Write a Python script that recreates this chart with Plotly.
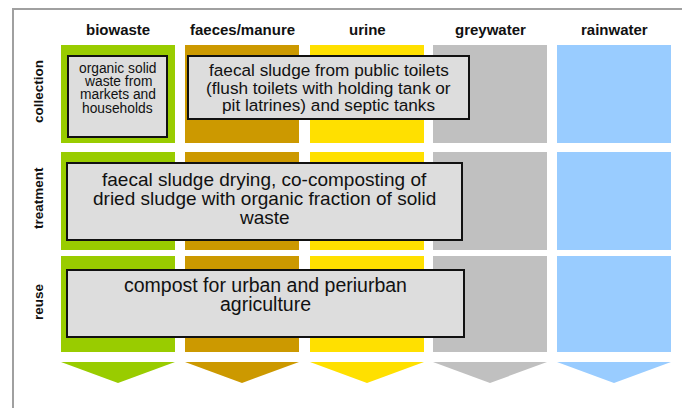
import plotly.graph_objects as go

# ---- data ----
categories = ["biowaste", "faeces/manure", "urine", "greywater", "rainwater"]
category_colors = ["#99CC00", "#CC9900", "#FFE000", "#C0C0C0", "#99CCFF"]
stages = ["collection", "treatment", "reuse"]

collection_biowaste_lines = ["organic solid", "waste from", "markets and", "households"]
collection_faecal_lines = ["faecal sludge from public toilets",
                           "(flush toilets with holding tank or",
                           "pit latrines) and septic tanks"]
treatment_lines = ["faecal sludge drying, co-composting of",
                   "dried sludge with organic fraction of solid",
                   "waste"]
reuse_lines = ["compost for urban and periurban", "agriculture"]

# ---- layout geometry (page-pixel data coordinates) ----
col_x0 = [61, 185, 310, 433, 557]
col_w = 114
row_y = [(45, 143), (152, 250), (256, 352)]
arrow_y = (362, 383)
header_y = 29
stage_x = 38
stage_y = [92, 198, 302]

FONT = "Liberation Sans, Arial, sans-serif"
TXT = "#111111"

shapes = []
annotations = []

# outer frame
shapes.append(dict(type="rect", xref="x", yref="y", x0=13, y0=9, x1=687, y1=440,
                   line=dict(color="#A0A0A0", width=2), fillcolor="rgba(0,0,0,0)", layer="below"))

# coloured column blocks and arrows
for i, (cat, col) in enumerate(zip(categories, category_colors)):
    x0 = col_x0[i]
    x1 = x0 + col_w
    for (y0, y1) in row_y:
        shapes.append(dict(type="rect", xref="x", yref="y", x0=x0, x1=x1, y0=y0, y1=y1,
                           fillcolor=col, line=dict(width=0), layer="below"))
    xc = (x0 + x1) / 2
    shapes.append(dict(type="path", xref="x", yref="y",
                       path=f"M {x0},{arrow_y[0]} L {x1},{arrow_y[0]} L {xc},{arrow_y[1]} Z",
                       fillcolor=col, line=dict(width=0), layer="below"))
    annotations.append(dict(x=xc, y=header_y, xref="x", yref="y", text=f"<b>{cat}</b>",
                            showarrow=False, font=dict(family=FONT, size=15, color=TXT)))

# stage labels
for s, y in zip(stages, stage_y):
    annotations.append(dict(x=stage_x, y=y, xref="x", yref="y", text=f"<b>{s}</b>",
                            textangle=-90, showarrow=False,
                            font=dict(family=FONT, size=13.5, color=TXT)))

# grey text boxes: rect, lines, font size, first line centre, line spacing
boxes = [
    (dict(x0=68, x1=167, y0=56, y1=137), collection_biowaste_lines, 13.8, 68, 13.4),
    (dict(x0=188, x1=469, y0=56, y1=119), collection_faecal_lines, 17.2, 70, 17.5),
    (dict(x0=67, x1=462, y0=163, y1=240), treatment_lines, 19, 179, 19.3),
    (dict(x0=67, x1=464, y0=270, y1=337), reuse_lines, 19.5, 285, 18.5),
]
for rect, lines, fsize, first_y, spacing in boxes:
    shapes.append(dict(type="rect", xref="x", yref="y", **rect, fillcolor="#DDDDDD",
                       line=dict(color="#111111", width=2), layer="above"))
    xc = (rect["x0"] + rect["x1"]) / 2
    for k, line in enumerate(lines):
        annotations.append(dict(x=xc, y=first_y + k * spacing, xref="x", yref="y", text=line,
                                showarrow=False, borderpad=0,
                                font=dict(family=FONT, size=fsize, color=TXT)))

fig = go.Figure()
fig.add_trace(go.Scatter(x=[8, 698], y=[8, 416], mode="markers",
                         marker=dict(opacity=0), hoverinfo="skip", showlegend=False))
# the page has an 8px body margin, so the axis ranges are offset by 8px to keep
# data coordinates equal to page pixels
fig.update_layout(
    width=690, height=408,
    margin=dict(l=0, r=0, t=0, b=0),
    paper_bgcolor="white", plot_bgcolor="white",
    shapes=shapes, annotations=annotations,
    xaxis=dict(range=[8, 698], visible=False, fixedrange=True),
    yaxis=dict(range=[416, 8], visible=False, fixedrange=True),
    showlegend=False,
)
fig.write_html("out.html")
